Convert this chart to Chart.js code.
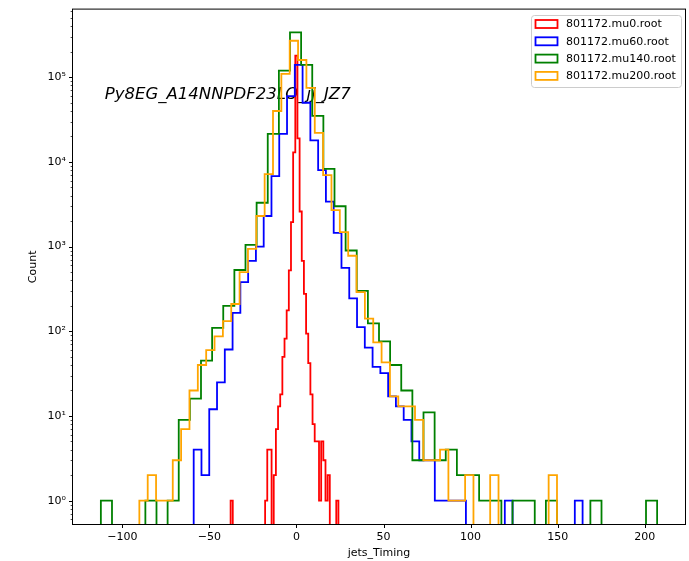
<!DOCTYPE html>
<html>
<head>
<meta charset="utf-8">
<script src="https://cdn.jsdelivr.net/npm/chart.js@4.4.0/dist/chart.umd.min.js"></script>
<style>
  html, body { margin: 0; padding: 0; background: #fff; }
</style>
</head>
<body>
<canvas id="histChart" width="689" height="561"></canvas>
<script>
// --- Data ---
const sampleNames = ['801172.mu0.root', '801172.mu60.root', '801172.mu140.root', '801172.mu200.root'];
const sampleColors = ['#ff0000', '#0000ff', '#008000', '#ffa500'];

// first and last bin edge of each histogram (50 equal bins each)
const rangeMu0 = [-37.8, 24.1];
const rangeMu60 = [-59.0, 164.3];
const rangeMu140 = [-112.3, 207.1];
const rangeMu200 = [-90.2, 149.6];

const countsMu0 = [1, 0, 0, 0, 0, 0, 0, 0, 0, 0,
  0, 0, 0, 0, 0, 0, 1, 4, 4, 0,
  2, 7, 13, 18, 50, 82, 177, 525, 1950, 13000,
  180000, 19000, 2600, 680, 277, 94, 42, 18, 8, 5,
  5, 1, 5, 3, 1, 2, 0, 0, 0, 1];
const countsMu60 = [4, 2, 12, 25, 61, 165, 380, 680, 1000, 2300,
  6800, 21500, 60000, 140000, 50000, 18000, 8000, 3400, 1450, 560,
  245, 112, 64, 38, 32, 17, 13, 9, 5, 3,
  3, 1, 1, 1, 1, 0, 0, 0, 0, 0,
  1, 0, 0, 0, 0, 0, 0, 0, 0, 1];
const countsMu140 = [1, 0, 0, 0, 1, 0, 1, 9, 16, 45,
  110, 200, 530, 1050, 3300, 21500, 120000, 340000, 140000, 35000,
  8300, 3000, 900, 300, 124, 76, 40, 20, 3, 11,
  3, 4, 2, 2, 1, 1, 0, 1, 1, 0,
  1, 0, 0, 0, 1, 0, 0, 0, 0, 1];
const countsMu200 = [1, 2, 1, 1, 3, 7, 20, 40, 60, 87,
  132, 210, 500, 940, 2300, 7200, 40000, 110000, 270000, 160000,
  75000, 22000, 7000, 2700, 1480, 780, 290, 141, 74, 43,
  17, 13, 13, 9, 3, 3, 4, 1, 1, 2,
  0, 0, 2, 0, 0, 0, 0, 0, 0, 2];

const xTicks = [-100, -50, 0, 50, 100, 150, 200];
const yDecades = [0, 1, 2, 3, 4, 5];
const xLabel = 'jets_Timing';
const yLabel = 'Count';
const sampleTag = 'Py8EG_A14NNPDF23LO_jj_JZ7';

const FONT = "'DejaVu Sans', sans-serif";
const FLOOR = 0.1; // empty bins drop below the axis, like matplotlib's step outline

// --- Build step outlines from the bin counts ---
function stepPoints(range, counts) {
    const lo = range[0], hi = range[1];
    const w = (hi - lo) / counts.length;
    const pts = [{ x: lo, y: FLOOR }];
    counts.forEach((c, i) => {
        const y = c > 0 ? c : FLOOR;
        pts.push({ x: lo + i * w, y: y });
        pts.push({ x: lo + (i + 1) * w, y: y });
    });
    pts.push({ x: hi, y: FLOOR });
    return pts;
}

const allRanges = [rangeMu0, rangeMu60, rangeMu140, rangeMu200];
const allCounts = [countsMu0, countsMu60, countsMu140, countsMu200];

const datasets = sampleNames.map((name, i) => ({
    label: name,
    data: stepPoints(allRanges[i], allCounts[i]),
    borderColor: sampleColors[i],
    backgroundColor: sampleColors[i],
    borderWidth: 1.8,
    pointRadius: 0,
    tension: 0,
    fill: false,
    order: sampleNames.length - 1 - i // later samples drawn on top
}));

function superscript(n) {
    const sup = { '0': '⁰', '1': '¹', '2': '²', '3': '³', '4': '⁴', '5': '⁵', '6': '⁶', '7': '⁷', '8': '⁸', '9': '⁹', '-': '⁻' };
    return String(n).split('').map(ch => sup[ch]).join('');
}

// --- Plugins: frame, tick marks, text tag, legend ---
const framePlugin = {
    id: 'frame',
    beforeDatasetsDraw(chart) {
        const ctx = chart.ctx;
        const x = chart.scales.x, y = chart.scales.y;
        ctx.save();
        ctx.font = 'italic 16.5px ' + FONT;
        ctx.fillStyle = '#000';
        ctx.textBaseline = 'alphabetic';
        ctx.fillText(sampleTag, x.getPixelForValue(-110), y.getPixelForValue(56000));
        ctx.restore();
    },
    afterDraw(chart) {
        const ctx = chart.ctx;
        const a = chart.chartArea;
        const xs = chart.scales.x, ys = chart.scales.y;
        ctx.save();
        ctx.strokeStyle = '#000';
        ctx.lineWidth = 1;
        ctx.strokeRect(a.left - 0.5, a.top - 0.5, a.right - a.left + 1, a.bottom - a.top + 1);

        // x tick marks
        xTicks.forEach(v => {
            const px = Math.round(xs.getPixelForValue(v)) + 0.5;
            ctx.beginPath();
            ctx.moveTo(px, a.bottom);
            ctx.lineTo(px, a.bottom + 4);
            ctx.stroke();
        });
        // y tick marks, major and minor
        ys.ticks.forEach(t => {
            const major = ys._isMajorTick(t.value);
            const py = Math.round(ys.getPixelForValue(t.value)) + 0.5;
            ctx.lineWidth = major ? 1 : 0.7;
            ctx.beginPath();
            ctx.moveTo(a.left, py);
            ctx.lineTo(a.left - (major ? 4 : 2.4), py);
            ctx.stroke();
        });

        // legend
        const boxL = 531, boxT = 15, boxW = 150, boxH = 72;
        ctx.lineWidth = 1;
        ctx.fillStyle = 'rgba(255,255,255,0.8)';
        ctx.strokeStyle = '#cccccc';
        ctx.beginPath();
        ctx.roundRect(boxL + 0.5, boxT + 0.5, boxW, boxH, 3);
        ctx.fill();
        ctx.stroke();
        ctx.font = '11px ' + FONT;
        ctx.textBaseline = 'middle';
        chart.data.datasets.forEach((ds, i) => {
            const rowY = 24 + i * 17.3;
            ctx.strokeStyle = ds.borderColor;
            ctx.lineWidth = 1.8;
            ctx.strokeRect(535.5, rowY - 4, 22, 8);
            ctx.fillStyle = '#000';
            ctx.fillText(ds.label, 566, rowY + 0.5);
        });
        ctx.restore();
    }
};

const ctx = document.getElementById('histChart').getContext('2d');
const histChart = new Chart(ctx, {
    type: 'line',
    data: { datasets: datasets },
    options: {
        responsive: false,
        animation: false,
        events: [],
        layout: { padding: { left: 0, right: 4, top: 8, bottom: 0 } },
        scales: {
            x: {
                type: 'linear',
                min: -128.3,
                max: 223.1,
                afterBuildTicks: (scale) => { scale.ticks = xTicks.map(v => ({ value: v })); },
                afterFit: (scale) => { scale.height = 37; },
                ticks: {
                    autoSkip: false,
                    maxRotation: 0,
                    padding: 3,
                    color: '#000',
                    font: { family: FONT, size: 11 },
                    callback: (v) => String(v).replace('-', '\u2212')
                },
                grid: { display: false, drawTicks: true, tickLength: 4 },
                border: { display: false },
                title: {
                    display: true,
                    text: xLabel,
                    color: '#000',
                    font: { family: FONT, size: 11 },
                    padding: { top: 0, bottom: 1.5 }
                }
            },
            y: {
                type: 'logarithmic',
                min: 0.53,
                max: 630000,
                afterBuildTicks: (scale) => {
                    const ticks = [];
                    for (let d = -1; d <= 5; d++) {
                        for (let m = 1; m <= 9; m++) {
                            const v = m * Math.pow(10, d);
                            if (v >= scale.min && v <= scale.max) ticks.push({ value: v });
                        }
                    }
                    scale.ticks = ticks;
                    scale._isMajorTick = (v) => {
                        const e = Math.round(Math.log10(v));
                        return Math.abs(v - Math.pow(10, e)) < 1e-9 * v && yDecades.includes(e);
                    };
                },
                afterFit: (scale) => { scale.width = 73; },
                ticks: {
                    autoSkip: false,
                    padding: 3,
                    color: '#000',
                    font: { family: FONT, size: 11 },
                    callback: (v) => {
                        const e = Math.round(Math.log10(v));
                        if (Math.abs(v - Math.pow(10, e)) < 1e-9 * v && yDecades.includes(e)) {
                            return '10' + superscript(e);
                        }
                        return '';
                    }
                },
                grid: { display: false, drawTicks: true, tickLength: 4 },
                border: { display: false },
                title: {
                    display: true,
                    text: yLabel,
                    color: '#000',
                    font: { family: FONT, size: 11 },
                    padding: { top: 27, bottom: 0 }
                }
            }
        },
        plugins: {
            legend: { display: false },
            tooltip: { enabled: false }
        }
    },
    plugins: [framePlugin]
});
</script>
</body>
</html>
